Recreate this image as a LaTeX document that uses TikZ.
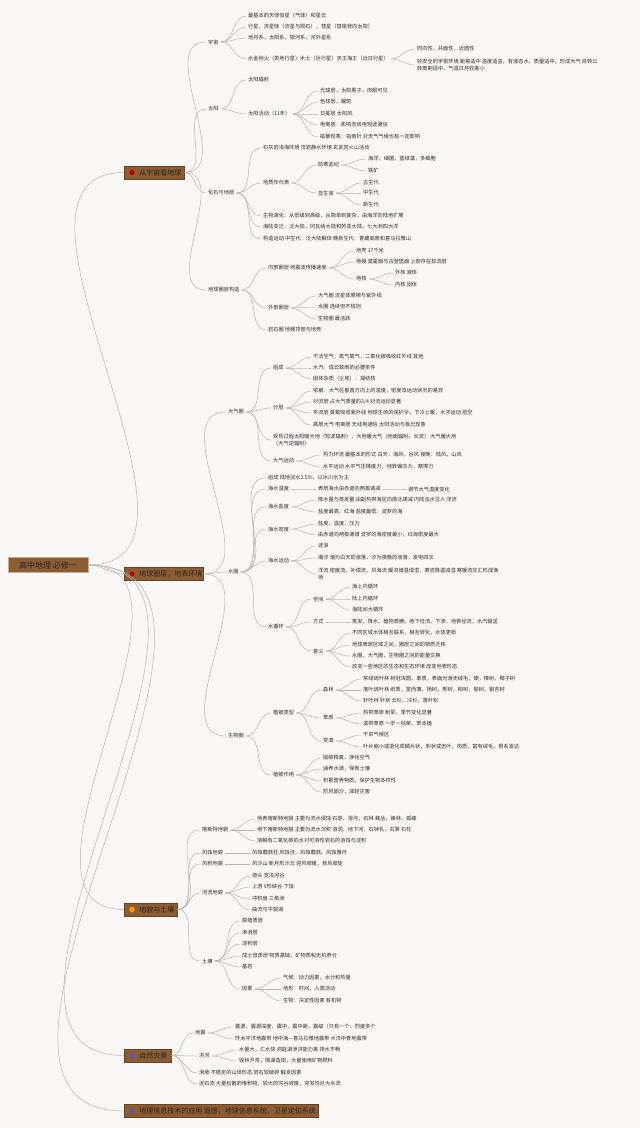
\documentclass[tikz,border=0pt]{standalone}
\usepackage{fontspec}
\newfontfamily\cjk{Noto Sans CJK SC}
\definecolor{bg}{RGB}{250,247,247}
\definecolor{ln}{RGB}{188,182,178}
\definecolor{tx}{RGB}{45,45,45}
\definecolor{brn}{RGB}{140,92,50}
\definecolor{brd}{RGB}{105,66,32}
\begin{document}
\begin{tikzpicture}[x=1pt,y=-1pt,
 t/.style={anchor=west, inner xsep=2pt, inner ysep=0.6pt, xshift=-2pt, font=\cjk\fontsize{5.2}{6.6}\selectfont, text=tx, align=left},
 bx/.style={anchor=west, draw=brd, fill=brn, line width=0.5pt, inner sep=0pt, minimum height=13pt, font=\cjk\fontsize{7}{8}\selectfont, text=black!85},
 lk/.style={draw=ln, line width=0.5pt}]
\fill[bg] (0,0) rectangle (640,1128);
\useasboundingbox (0,0) rectangle (640,1128);
% root
\node[draw=brn!50!white, fill=brn, line width=0.8pt, minimum width=80pt, minimum height=15pt, inner sep=0pt, font=\cjk\fontsize{8}{9}\selectfont, text=black!85] (r) at (48,565) {高中地理 必修一};
% branches
\node[bx] (b1) at (124,172.5) {\hspace*{15pt}从宇宙看地球\hspace*{3pt}};
\node[bx] (b2) at (124,574) {\hspace*{15pt}地球圈层，地表环境\hspace*{1pt}};
\node[bx] (b3) at (124,909.5) {\hspace*{15pt}地貌与土壤\hspace*{3pt}};
\node[bx] (b4) at (124,1055.5) {\hspace*{15pt}自然灾害\hspace*{4pt}};
\node[bx] (b5) at (124,1111) {\hspace*{15pt}地理信息技术的应用 遥感，地球信息系统，卫星定位系统\hspace*{2pt}};
\fill[red!75!black] (132,172.5) circle (2.6);
\fill[red!75!black] (132,574) circle (2.6);
\fill[orange!80!yellow] (132,909.5) circle (2.8);
\fill[blue!30!gray] (132,1055.5) circle (2.8);
\fill[blue!30!gray] (132,1111) circle (2.8);
% ---------- branch 1
\node[t] (u1) at (208,42) {宇宙};
\node[t] (u11) at (248,16) {最基本的天体恒星（气体）和星云};
\node[t] (u12) at (248,27) {行星，流星体（流星与陨石），彗星（彗尾背向太阳）};
\node[t] (u13) at (248,38) {地月系，太阳系，银河系，河外星系};
\node[t] (u14) at (248,59) {水金地火（类地行星）木土（巨行星）天王海王（远日行星）};
\node[t] (u141) at (417,49) {同向性，共面性，近圆性};
\node[t] (u142) at (417,65) {较安全的宇宙环境 距离适中 温度适宜，有液态水，质量适中，形成大气 自转公\\转周期适中，气温日月较差小};
\node[t] (u2) at (208,109) {太阳};
\node[t] (u21) at (248,80) {太阳辐射};
\node[t] (u22) at (248,114) {太阳活动（11年）};
\node[t] (u221) at (320,91) {光球层，太阳黑子，肉眼可见};
\node[t] (u222) at (320,102) {色球层，耀斑};
\node[t] (u223) at (320,114) {日冕层 太阳风};
\node[t] (u224) at (320,125) {电离层：影响无线电短波通信};
\node[t] (u225) at (320,137) {磁暴现象：指南针 对天气气候也有一定影响};
\node[t] (u3) at (208,193) {化石与地层};
\node[t] (u31) at (263,148) {石灰岩浅海环境 页岩静水环境 玄武岩火山活动};
\node[t] (u32) at (263,183) {地质年代表};
\node[t] (u321) at (318,165) {前寒武纪};
\node[t] (u3211) at (368,159) {海洋，细菌，蓝绿藻，多细胞};
\node[t] (u3212) at (368,171) {铁矿};
\node[t] (u322) at (318,193) {显生宙};
\node[t] (u3221) at (363,183) {古生代};
\node[t] (u3222) at (363,193) {中生代};
\node[t] (u3223) at (363,205) {新生代};
\node[t] (u33) at (263,216) {生物演化：从低级到高级，从简单到复杂，由海洋向陆地扩展};
\node[t] (u34) at (263,227) {海陆变迁：泛大陆，冈瓦纳大陆和劳亚大陆，七大洲四大洋};
\node[t] (u35) at (263,239) {构造运动 中生代：泛大陆解体 晚新生代：青藏高原和喜马拉雅山};
\node[t] (u4) at (208,290) {地球圈层构造};
\node[t] (u41) at (268,268) {内部圈层 地震波传播速度};
\node[t] (u411) at (356,251) {地壳 17千米};
\node[t] (u412) at (356,262) {地幔 莫霍面与古登堡面 上部存在软流层};
\node[t] (u413) at (356,279) {地核};
\node[t] (u4131) at (395,273) {外核 液体};
\node[t] (u4132) at (395,285) {内核 固体};
\node[t] (u42) at (268,308) {外部圈层};
\node[t] (u421) at (318,296) {大气圈 流星体摩擦与紫外线};
\node[t] (u422) at (318,307) {水圈 连续但不规则};
\node[t] (u423) at (318,319) {生物圈 最活跃};
\node[t] (u43) at (268,330) {岩石圈 地幔顶部与地壳};
% ---------- branch 2
\node[t] (a) at (228,412) {大气圈};
\node[t] (a1) at (273,368) {组成};
\node[t] (a11) at (313,357) {干洁空气：氮气氧气，二氧化碳吸收红外线 其他};
\node[t] (a12) at (313,368) {水汽：成云致雨的必要条件};
\node[t] (a13) at (313,379) {固体杂质（尘埃）：凝结核};
\node[t] (a2) at (273,408) {分层};
\node[t] (a21) at (313,391) {依据：大气在垂直方向上的温度，密度及运动状况的差异};
\node[t] (a22) at (313,402) {对流层 占大气质量的3/4 对流运动显著};
\node[t] (a23) at (313,413) {平流层 臭氧吸收紫外线 地球生命的保护伞，下冷上暖，水平运动 航空};
\node[t] (a24) at (313,425) {高层大气 电离层 无线电通信 太阳活动与极光现象};
\node[t] (a3) at (273,440) {受热过程太阳暖大地（短波辐射），大地暖大气（地面辐射，长波） 大气暖大地\\（大气逆辐射）};
\node[t] (a4) at (273,461) {大气运动};
\node[t] (a41) at (323,455) {热力环流 最基本的形式 白天：海风，谷风 夜晚：陆风，山风};
\node[t] (a42) at (323,467) {水平运动 水平气压梯度力，地转偏向力，摩擦力};
\node[t] (w) at (228,572) {水圈};
\node[t] (w1) at (268,478) {组成 陆地淡水2.5\%，以冰川水为主};
\node[t] (w2) at (268,489) {海水温度};
\node[t] (w21) at (318,489) {表层海水由赤道向两极递减};
\node[t] (w211) at (408,489) {调节大气温度变化};
\node[t] (w3) at (268,507) {海水盐度};
\node[t] (w31) at (318,500) {降水量与蒸发量 由副热带海区向南北递减 内陆淡水注入 洋流};
\node[t] (w32) at (318,512) {盐度最高：红海 盐度最低：波罗的海};
\node[t] (w4) at (268,529) {海水密度};
\node[t] (w41) at (318,524) {盐度，温度，压力};
\node[t] (w42) at (318,535) {由赤道向两极递增 波罗的海密度最小，红海密度最大};
\node[t] (w5) at (268,561) {海水运动};
\node[t] (w51) at (318,546) {波浪};
\node[t] (w52) at (318,558) {潮汐 潮为白天的涨落，汐为夜晚的涨落，发电四次};
\node[t] (w53) at (318,574) {洋流 密度流，补偿流，风海流 暖流增温增湿，寒流降温减湿 寒暖流交汇形成渔\\场};
\node[t] (w6) at (268,627) {水循环};
\node[t] (w61) at (313,599) {空间};
\node[t] (w611) at (352,587) {海上内循环};
\node[t] (w612) at (352,599) {陆上内循环};
\node[t] (w613) at (352,610) {海陆间大循环};
\node[t] (w62) at (313,622) {方式};
\node[t] (w621) at (352,622) {蒸发，降水，植物蒸腾，地下径流，下渗，地表径流，水汽输送};
\node[t] (w63) at (313,651) {意义};
\node[t] (w631) at (352,633) {不同区域水体相互联系，相互转化，水体更新};
\node[t] (w632) at (352,645) {地球表层区域之间，圈层之间的物质迁移};
\node[t] (w633) at (352,656) {水圈，大气圈，生物圈之间的能量交换};
\node[t] (w634) at (352,667) {改变一些地区的生态和生态环境 改变地表形态};
\node[t] (s) at (228,736) {生物圈};
\node[t] (s1) at (273,713) {植被类型};
\node[t] (s11) at (323,690) {森林};
\node[t] (s111) at (363,679) {常绿阔叶林 树冠浑圆，革质，表面光滑无绒毛，硬，樟树，椰子树};
\node[t] (s112) at (363,690) {落叶阔叶林 纸质，宽而薄，杨树，桦树，柳树，榆树，银杏树};
\node[t] (s113) at (363,701) {针叶林 针状 云杉，冷杉，落叶松};
\node[t] (s12) at (323,718) {草原};
\node[t] (s121) at (363,713) {热带草原 耐旱，季节变化显著};
\node[t] (s122) at (363,724) {温带草原 一岁一枯荣，草本植};
\node[t] (s13) at (323,741) {荒漠};
\node[t] (s131) at (363,735) {干旱气候区};
\node[t] (s132) at (363,747) {叶片缩小或退化成鳞片状，刺状或无叶，肉质，富有绒毛，根系发达};
\node[t] (s2) at (273,775) {植被作用};
\node[t] (s21) at (323,758) {固碳释氧，净化空气};
\node[t] (s22) at (323,769) {涵养水源，保育土壤};
\node[t] (s23) at (323,781) {积累营养物质，保护生物多样性};
\node[t] (s24) at (323,792) {防风固沙，减轻灾害};
% ---------- branch 3
\node[t] (k) at (202,830) {喀斯特地貌};
\node[t] (k1) at (257,819) {地表喀斯特地貌 主要为流水侵蚀 石芽，溶沟，石林 峰丛，峰林，孤峰};
\node[t] (k2) at (257,830) {地下喀斯特地貌 主要为流水沉积 溶洞，地下河，石钟乳，石笋 石柱};
\node[t] (k3) at (257,841) {溶解有二氧化碳的水对可溶性岩石的溶蚀与淀积};
\node[t] (f) at (202,853) {风蚀地貌};
\node[t] (f1) at (252,853) {风蚀蘑菇柱 风蚀洼，风蚀蘑菇，风蚀雅丹};
\node[t] (g) at (202,864) {风积地貌};
\node[t] (g1) at (252,864) {风沙山 新月形沙丘 迎风坡缓，背风坡陡};
\node[t] (h) at (202,893) {河流地貌};
\node[t] (h1) at (252,876) {源头 宽浅河谷};
\node[t] (h2) at (252,887) {上游 V形峡谷 下蚀};
\node[t] (h3) at (252,899) {冲积扇 三角洲};
\node[t] (h4) at (252,910) {曲流与牛轭湖};
\node[t] (tt) at (202,961) {土壤};
\node[t] (t1) at (242,921) {腐殖质层};
\node[t] (t2) at (242,933) {淋溶层};
\node[t] (t3) at (242,944) {淀积层};
\node[t] (t4) at (242,956) {成土母质层 物质基础，矿物质和无机养分};
\node[t] (t5) at (242,967) {基岩};
\node[t] (t6) at (242,989) {因素};
\node[t] (t61) at (283,978) {气候：动力因素，水分和热量};
\node[t] (t62) at (283,989) {地形：时间，人类活动};
\node[t] (t63) at (283,1001) {生物：决定性因素 有机物};
% ---------- branch 4
\node[t] (d) at (195,1033) {地震};
\node[t] (d1) at (235,1027) {震源，震源深度，震中，震中距，震级（只有一个，烈度多个};
\node[t] (d2) at (235,1039) {环太平洋地震带 地中海—喜马拉雅地震带 大洋中脊地震带};
\node[t] (l) at (199,1056) {洪涝};
\node[t] (l1) at (239,1050) {水量大，汇水快 洞庭湖泄洪能力差 排水不畅};
\node[t] (l2) at (239,1061) {毁林开荒，围湖造田，大量使用矿物燃料};
\node[t] (p) at (199,1073) {滑坡 不稳定的山体形态 岩石较破碎 触发因素};
\node[t] (m) at (199,1084) {泥石流 大量松散的堆积物，较大的沟谷坡度，突发性巨大水流};
% ---------- connectors
\foreach \a/\b in {r/b1,r/b2,r/b3,r/b4,r/b5,
 b1/u1,b1/u2,b1/u3,b1/u4,
 u1/u11,u1/u12,u1/u13,u1/u14,u14/u141,u14/u142,
 u2/u21,u2/u22,u22/u221,u22/u222,u22/u223,u22/u224,u22/u225,
 u3/u31,u3/u32,u3/u33,u3/u34,u3/u35,u32/u321,u32/u322,u321/u3211,u321/u3212,u322/u3221,u322/u3222,u322/u3223,
 u4/u41,u4/u42,u4/u43,u41/u411,u41/u412,u41/u413,u413/u4131,u413/u4132,u42/u421,u42/u422,u42/u423,
 b2/a,b2/w,b2/s,
 a/a1,a/a2,a/a3,a/a4,a1/a11,a1/a12,a1/a13,a2/a21,a2/a22,a2/a23,a2/a24,a4/a41,a4/a42,
 w/w1,w/w2,w/w3,w/w4,w/w5,w/w6,w2/w21,w21/w211,w3/w31,w3/w32,w4/w41,w4/w42,w5/w51,w5/w52,w5/w53,
 w6/w61,w6/w62,w6/w63,w61/w611,w61/w612,w61/w613,w62/w621,w63/w631,w63/w632,w63/w633,w63/w634,
 s/s1,s/s2,s1/s11,s1/s12,s1/s13,s11/s111,s11/s112,s11/s113,s12/s121,s12/s122,s13/s131,s13/s132,
 s2/s21,s2/s22,s2/s23,s2/s24,
 b3/k,b3/f,b3/g,b3/h,b3/tt,k/k1,k/k2,k/k3,f/f1,g/g1,h/h1,h/h2,h/h3,h/h4,
 tt/t1,tt/t2,tt/t3,tt/t4,tt/t5,tt/t6,t6/t61,t6/t62,t6/t63,
 b4/d,b4/l,b4/p,b4/m,d/d1,d/d2,l/l1,l/l2}
 \draw[lk] (\a.east) to[out=0,in=180] (\b.west);
\end{tikzpicture}
\end{document}
